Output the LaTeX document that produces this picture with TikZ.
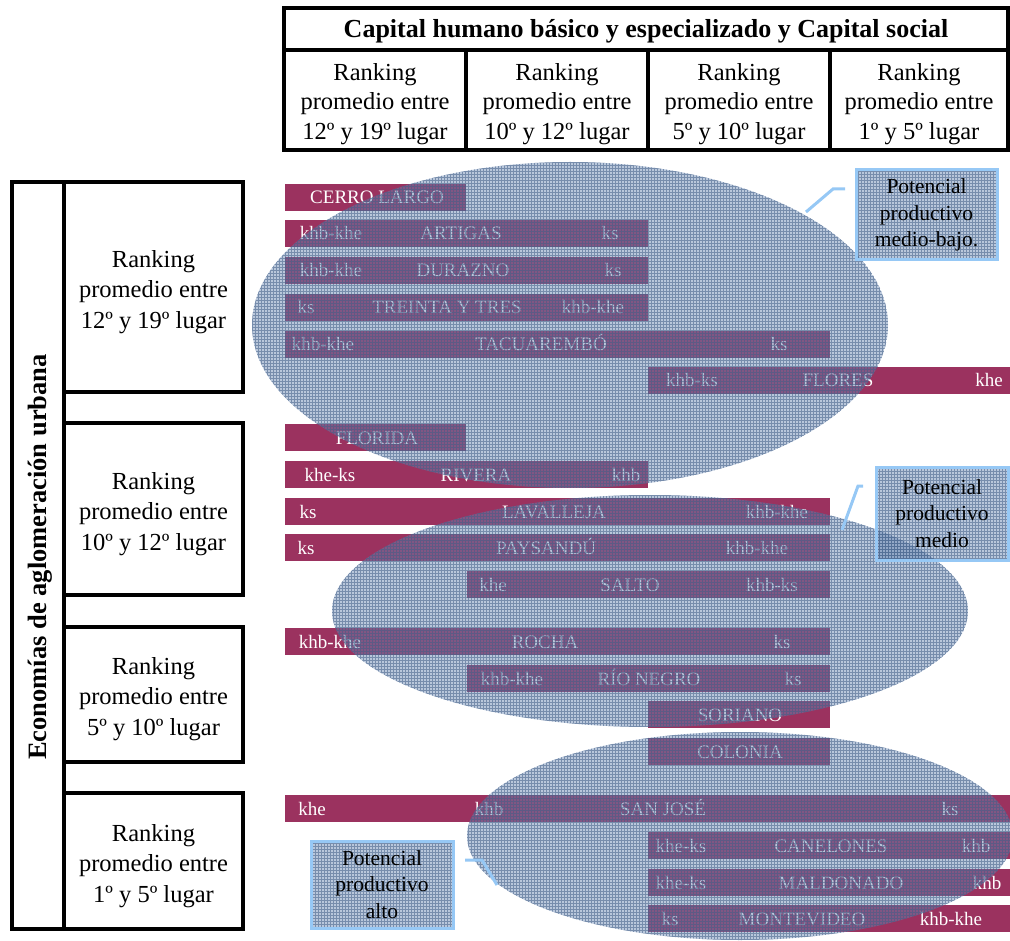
\documentclass[tikz,border=0pt]{standalone}
\usepackage{fontspec}
\setmainfont{Liberation Serif}
\definecolor{barc}{RGB}{155,50,95}
\definecolor{ellc}{RGB}{100,130,175}
\definecolor{gridc}{RGB}{65,95,135}
\definecolor{callb}{RGB}{150,200,245}
\newcommand\mkbar[4]{%
  \pgfmathsetmacro\bw{#3-#2}%
  \node[barbox, minimum width=\bw pt] (#1) at (#2,#4) {};}
\begin{document}
\begin{tikzpicture}[x=1pt,y=-1pt,
  cell/.style={draw=black, line width=3.5pt, inner sep=0pt, outer sep=0pt, align=center,
    font=\fontsize{24.5}{29.5}\selectfont},
  ctext/.style={align=center, inner sep=0pt, font=\fontsize{24.5}{29.5}\selectfont},
  barbox/.style={fill=barc, draw=none, anchor=north west, minimum height=27pt, inner sep=0pt, outer sep=0pt},
  bt/.style={text=white, font=\fontsize{19}{19}\selectfont, inner sep=0pt, anchor=base},
  ovlfill/.style={fill=ellc, fill opacity=0.45},
  ovlgrid/.style={draw=gridc, draw opacity=0.55, line width=0.85pt},
  callout/.style={draw=callb, line width=3pt, align=center, inner sep=0pt,
    font=\fontsize{21.5}{26.5}\selectfont, text=black},
  cline/.style={draw=callb, line width=3pt}]
\useasboundingbox (0,0) rectangle (1010,941);

% ---------- header ----------
\node[cell, minimum width=724pt, minimum height=42pt] (title) at (646,29) {};
\node[font=\bfseries\fontsize{26}{30}\selectfont, inner sep=0pt] (titletxt) at (646,31)
  {Capital humano básico y especializado y Capital social};
\node[cell, minimum width=182pt, minimum height=100pt] (h1) at (375,100) {};
\node[cell, minimum width=182pt, minimum height=100pt] (h2) at (557,100) {};
\node[cell, minimum width=182pt, minimum height=100pt] (h3) at (739,100) {};
\node[cell, minimum width=178pt, minimum height=100pt] (h4) at (919,100) {};
\node[ctext] (h1t) at (375,104) {Ranking\\promedio entre\\12º y 19º lugar};
\node[ctext] (h2t) at (557,104) {Ranking\\promedio entre\\10º y 12º lugar};
\node[ctext] (h3t) at (739,104) {Ranking\\promedio entre\\5º y 10º lugar};
\node[ctext] (h4t) at (919,104) {Ranking\\promedio entre\\1º y 5º lugar};

% ---------- left column ----------
\node[cell, minimum width=52pt, minimum height=747pt] (side) at (38,555.5) {};
\node[rotate=90, font=\bfseries\fontsize{26.5}{30}\selectfont] (sidetxt) at (40,557) {Economías de aglomeración urbana};
\node[cell, minimum width=179pt, minimum height=210pt] (r1) at (153.5,287) {};
\node[cell, minimum width=179pt, minimum height=172pt] (r2) at (153.5,509) {};
\node[cell, minimum width=179pt, minimum height=135pt] (r3) at (153.5,694.5) {};
\node[cell, minimum width=179pt, minimum height=136pt] (r4) at (153.5,861) {};
\node[ctext, font=\fontsize{24.5}{30.5}\selectfont] (r1t) at (153.5,292) {Ranking\\promedio entre\\12º y 19º lugar};
\node[ctext, font=\fontsize{24.5}{30.5}\selectfont] (r2t) at (153.5,514) {Ranking\\promedio entre\\10º y 12º lugar};
\node[ctext, font=\fontsize{24.5}{30.5}\selectfont] (r3t) at (153.5,699) {Ranking\\promedio entre\\5º y 10º lugar};
\node[ctext, font=\fontsize{24.5}{30.5}\selectfont] (r4t) at (153.5,866) {Ranking\\promedio entre\\1º y 5º lugar};

% ---------- bars ----------
\mkbar{b1}{285}{466}{184}
\mkbar{b2}{285}{648}{220}
\mkbar{b3}{285}{648}{257}
\mkbar{b4}{285}{648}{294}
\mkbar{b5}{285}{830}{331}
\mkbar{b6}{648}{1010}{367}
\mkbar{b7}{285}{466}{424}
\mkbar{b8}{285}{648}{461}
\mkbar{b9}{285}{830}{498}
\mkbar{b10}{285}{830}{534}
\mkbar{b11}{467}{830}{571}
\mkbar{b12}{285}{830}{628}
\mkbar{b13}{467}{830}{665}
\mkbar{b14}{648}{830}{701}
\mkbar{b15}{648}{830}{738}
\mkbar{b16}{285}{1010}{795}
\mkbar{b17}{648}{1010}{832}
\mkbar{b18}{648}{1010}{869}
\mkbar{b19}{648}{1010}{905}

% ---------- bar labels ----------
\node[bt] (t1b) at (377,204) {CERRO LARGO};
\node[bt] (t2a) at (331,240) {khb-khe};
\node[bt] (t2b) at (461,240) {ARTIGAS};
\node[bt] (t2c) at (610,240) {ks};
\node[bt] (t3a) at (331,277) {khb-khe};
\node[bt] (t3b) at (463,277) {DURAZNO};
\node[bt] (t3c) at (613,277) {ks};
\node[bt] (t4a) at (306,314) {ks};
\node[bt] (t4b) at (447,314) {TREINTA Y TRES};
\node[bt] (t4c) at (593,314) {khb-khe};
\node[bt] (t5a) at (323,351) {khb-khe};
\node[bt] (t5b) at (541,351) {TACUAREMBÓ};
\node[bt] (t5c) at (779,351) {ks};
\node[bt] (t6a) at (692,387) {khb-ks};
\node[bt] (t6b) at (838,387) {FLORES};
\node[bt] (t6c) at (989,387) {khe};
\node[bt] (t7b) at (377,444) {FLORIDA};
\node[bt] (t8a) at (330,481) {khe-ks};
\node[bt] (t8b) at (476,481) {RIVERA};
\node[bt] (t8c) at (626,481) {khb};
\node[bt] (t9a) at (308,518) {ks};
\node[bt] (t9b) at (554,518) {LAVALLEJA};
\node[bt] (t9c) at (777,518) {khb-khe};
\node[bt] (t10a) at (306,554) {ks};
\node[bt] (t10b) at (546,554) {PAYSANDÚ};
\node[bt] (t10c) at (757,554) {khb-khe};
\node[bt] (t11a) at (493,591) {khe};
\node[bt] (t11b) at (630,591) {SALTO};
\node[bt] (t11c) at (772,591) {khb-ks};
\node[bt] (t12a) at (330,648) {khb-khe};
\node[bt] (t12b) at (545,648) {ROCHA};
\node[bt] (t12c) at (782,648) {ks};
\node[bt] (t13a) at (512,685) {khb-khe};
\node[bt] (t13b) at (649,685) {RÍO NEGRO};
\node[bt] (t13c) at (793,685) {ks};
\node[bt] (t14b) at (740,721) {SORIANO};
\node[bt] (t15b) at (740,758) {COLONIA};
\node[bt] (t16a) at (312,815) {khe};
\node[bt] (t16b) at (489,815) {khb};
\node[bt] (t16c) at (663,815) {SAN JOSÉ};
\node[bt] (t16d) at (950,815) {ks};
\node[bt] (t17a) at (681,852) {khe-ks};
\node[bt] (t17b) at (831,852) {CANELONES};
\node[bt] (t17c) at (976,852) {khb};
\node[bt] (t18a) at (681,889) {khe-ks};
\node[bt] (t18b) at (841,889) {MALDONADO};
\node[bt] (t18c) at (987,889) {khb};
\node[bt] (t19a) at (670,925) {ks};
\node[bt] (t19b) at (802,925) {MONTEVIDEO};
\node[bt] (t19c) at (951,925) {khb-khe};

% ---------- ellipses ----------
\begin{scope}
  \clip (570,325) ellipse [x radius=318pt, y radius=163pt];
  \path[ovlfill] (570,325) ellipse [x radius=318pt, y radius=163pt];
  \draw[ovlgrid, step=3pt] (249,159) grid (891,491);
\end{scope}
\begin{scope}
  \clip (650,611) ellipse [x radius=318pt, y radius=116pt];
  \path[ovlfill] (650,611) ellipse [x radius=318pt, y radius=116pt];
  \draw[ovlgrid, step=3pt] (330,492) grid (972,730);
\end{scope}
\begin{scope}
  \clip (740,836) ellipse [x radius=273pt, y radius=104pt];
  \path[ovlfill] (740,836) ellipse [x radius=273pt, y radius=104pt];
  \draw[ovlgrid, step=3pt] (465,730) grid (1014,942);
\end{scope}

% ---------- callout fills ----------
\begin{scope}
  \clip (856,170) rectangle (997,260);
  \path[ovlfill] (856,170) rectangle (997,260);
  \draw[ovlgrid, step=3pt] (855,168) grid (999,261);
\end{scope}
\begin{scope}
  \clip (876,467) rectangle (1008,560);
  \path[ovlfill] (876,467) rectangle (1008,560);
  \draw[ovlgrid, step=3pt] (875,465) grid (1010,561);
\end{scope}
\begin{scope}
  \clip (311,841) rectangle (453,928);
  \path[ovlfill] (311,841) rectangle (453,928);
  \draw[ovlgrid, step=3pt] (310,840) grid (455,930);
\end{scope}

% ---------- callouts ----------
\node[callout, minimum width=141pt, minimum height=90pt] (p1) at (926.5,215) {Potencial\\productivo\\medio-bajo.};
\node[callout, minimum width=132pt, minimum height=93pt] (p2) at (942,513.5) {Potencial\\productivo\\medio};
\node[callout, minimum width=142pt, minimum height=87pt] (p3) at (382,884.5) {Potencial\\productivo\\alto};

\coordinate (c1a) at (806,212); \coordinate (c1b) at (833,189); \coordinate (c1c) at (845,189);
\coordinate (c2a) at (842,530); \coordinate (c2b) at (858,486); \coordinate (c2c) at (863,486);
\coordinate (c3a) at (465,860); \coordinate (c3b) at (482,860); \coordinate (c3c) at (497,885);
\draw[cline] (c1a) -- (c1b) -- (c1c);
\draw[cline] (c2a) -- (c2b) -- (c2c);
\draw[cline] (c3a) -- (c3b) -- (c3c);
\end{tikzpicture}
\end{document}
